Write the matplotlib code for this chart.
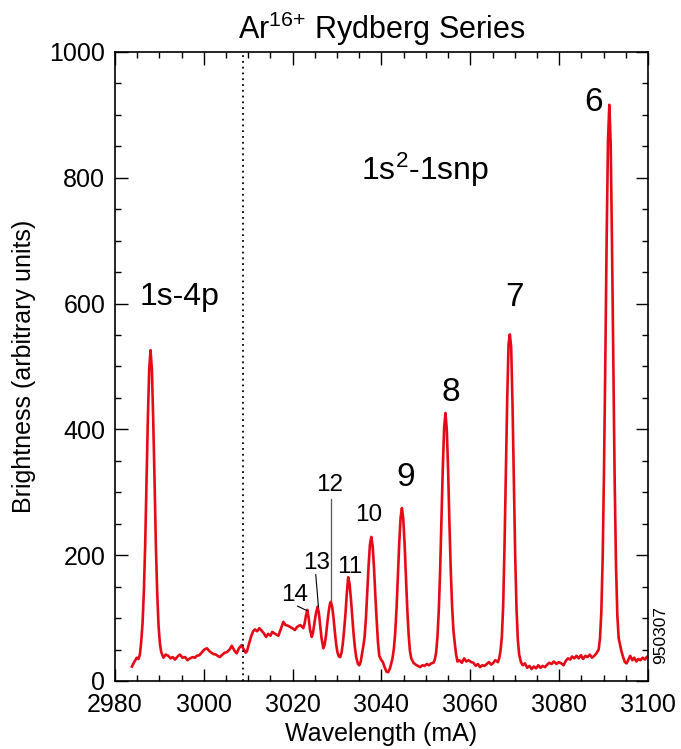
import numpy as np
import matplotlib
matplotlib.use('Agg')
import matplotlib.pyplot as plt
from matplotlib.ticker import MultipleLocator

plt.rcParams['font.family'] = ['Liberation Sans', 'DejaVu Sans']
plt.rcParams['mathtext.fontset'] = 'custom'
plt.rcParams['mathtext.rm'] = 'Liberation Sans'
plt.rcParams['mathtext.it'] = 'Liberation Sans:italic'

# spectrum, read point by point (wavelength in mA, brightness)
wavelength = [
    2983.8, 2984.3, 2984.9, 2985.3, 2985.6,
    # 1s-4p
    2985.9, 2986.2, 2986.5, 2986.8, 2987.1, 2987.4, 2987.7, 2988.0, 2988.3, 2988.6,
    2988.9, 2989.2, 2989.5, 2989.8, 2990.1, 2990.4,
    2990.9, 2991.4, 2992.0, 2992.5, 2993.0, 2993.5, 2994.1, 2994.6, 2995.2, 2995.8,
    2996.3, 2996.9, 2997.5, 2998.0, 2998.4, 2999.0, 2999.6, 3000.1, 3000.7, 3001.3,
    3002.1, 3002.7, 3003.1, 3003.6, 3004.2, 3004.7, 3005.2, 3005.8, 3006.3, 3006.9,
    3007.4, 3007.9, 3008.5, 3009.0, 3009.4, 3009.7, 3010.2, 3010.7, 3011.1, 3011.5,
    3012.0, 3012.5, 3013.0, 3013.5, 3014.0, 3014.5, 3015.0, 3015.4, 3015.8, 3016.3,
    3016.8, 3017.3, 3017.9, 3018.4, 3018.9, 3019.4, 3019.9, 3020.5, 3021.0, 3021.7,
    3022.1, 3022.4,
    # n = 14, 13, 12
    3022.7, 3023.0, 3023.3, 3023.6, 3023.9, 3024.3,
    3024.6, 3024.9, 3025.2, 3025.6, 3025.9, 3026.2, 3026.5, 3026.9,
    3027.2, 3027.5, 3027.8, 3028.1, 3028.4, 3028.6, 3028.9, 3029.2, 3029.5, 3029.8,
    3030.1, 3030.4, 3030.7,
    # n = 11
    3031.0, 3031.3, 3031.6, 3031.9, 3032.2, 3032.5, 3032.8, 3033.1, 3033.4, 3033.7,
    3034.0, 3034.3, 3034.7, 3035.0, 3035.3,
    # n = 10
    3035.6, 3035.9, 3036.2, 3036.5, 3036.8, 3037.1, 3037.4, 3037.7, 3038.0, 3038.3,
    3038.6, 3038.9, 3039.2, 3039.5, 3039.9, 3040.3, 3040.7, 3041.1, 3041.5, 3041.9,
    3042.2,
    # n = 9
    3042.5, 3042.8, 3043.1, 3043.4, 3043.7, 3044.0, 3044.3, 3044.6, 3044.9, 3045.2,
    3045.5, 3045.8, 3046.1, 3046.4, 3046.7, 3047.2, 3047.7, 3048.2, 3048.7, 3049.2,
    3049.7, 3050.2, 3050.7, 3051.2, 3051.7, 3052.0,
    # n = 8
    3052.3, 3052.6, 3052.9, 3053.2, 3053.5, 3053.8, 3054.1, 3054.4, 3054.7, 3055.0,
    3055.3, 3055.6, 3055.9, 3056.2, 3056.5, 3056.8, 3057.1, 3057.5, 3058.1, 3058.6,
    3059.1, 3059.6, 3060.2, 3060.7, 3061.2, 3061.7, 3062.2, 3062.7, 3063.2, 3063.7,
    3064.2, 3064.7, 3065.2, 3065.6, 3066.2, 3066.5,
    # n = 7
    3066.8, 3067.1, 3067.4, 3067.7, 3068.0, 3068.3, 3068.6, 3068.9, 3069.2, 3069.5,
    3069.8, 3070.1, 3070.4, 3070.7, 3071.0, 3071.4, 3071.8, 3072.3, 3072.8, 3073.3,
    3073.8, 3074.3, 3074.8, 3075.3, 3075.8, 3076.3, 3076.8, 3077.3, 3077.8, 3078.3,
    3078.8, 3079.4, 3079.9, 3080.5, 3081.0, 3081.5, 3082.0, 3082.5, 3082.9, 3083.4,
    3083.9, 3084.4, 3084.9, 3085.4, 3085.9, 3086.4, 3086.9, 3087.4, 3087.9, 3088.4,
    3088.9,
    # n = 6
    3089.2, 3089.5, 3089.8, 3090.1, 3090.4, 3090.7, 3091.0, 3091.3, 3091.6, 3091.9,
    3092.2, 3092.5, 3092.8, 3093.1, 3093.4, 3093.7, 3094.0, 3094.4, 3094.8, 3095.2,
    3095.6, 3096.0, 3096.5, 3096.9, 3097.4, 3097.8, 3098.3, 3098.8, 3099.3, 3099.7,
]
brightness = [
    23, 30, 37, 35, 42,
    63, 92, 143, 219, 317, 419, 497, 526, 495, 415,
    320, 215, 140, 88, 60, 46,
    37, 42, 40, 36, 38, 34, 39, 42, 37, 38,
    33, 36, 38, 37, 40, 41, 46, 50, 52, 47,
    43, 42, 40, 38, 42, 45, 46, 50, 56, 48,
    44, 52, 57, 50, 45, 47, 60, 72, 79, 82,
    79, 84, 80, 76, 70, 75, 72, 78, 76, 74,
    72, 82, 94, 89, 88, 86, 84, 81, 86, 89,
    86, 84,
    92, 104, 113, 100, 82, 70,
    78, 92, 106, 118, 108, 88, 68, 52,
    58, 72, 92, 110, 123, 126, 118, 100, 78, 58,
    45, 39, 38,
    45, 60, 82, 108, 140, 165, 155, 132, 104, 76,
    54, 38, 27, 25, 30,
    42, 55, 70, 100, 141, 184, 217, 229, 215, 182,
    138, 98, 62, 40, 34, 30, 22, 15, 14, 20,
    28,
    37, 52, 78, 117, 168, 220, 260, 275, 258, 218,
    165, 115, 75, 48, 36, 29, 26, 24, 22, 25,
    24, 27, 25, 28, 29, 34,
    45, 70, 112, 175, 255, 338, 402, 426, 400, 335,
    250, 175, 118, 80, 60, 42, 31, 33, 29, 36,
    31, 33, 30, 29, 24, 27, 22, 25, 24, 27,
    30, 26, 29, 33, 30, 36,
    48, 70, 120, 215, 330, 445, 535, 551, 530, 440,
    320, 200, 115, 65, 42, 30, 25, 28, 21, 24,
    19, 23, 20, 25, 21, 24, 22, 26, 29, 27,
    31, 27, 30, 28, 25, 32, 36, 34, 39, 36,
    40, 36, 41, 35, 40, 38, 42, 37, 40, 44,
    50,
    68, 110, 195, 335, 510, 705, 860, 916, 855, 695,
    500, 320, 185, 105, 68, 58, 48, 38, 30, 28,
    34, 40, 33, 37, 31, 35, 33, 37, 34, 38,
]

series_edge = 3008.8

# Rydberg members: label, label position, font size
line_labels = ['6', '7', '8', '9', '10', '11', '12', '13', '14']
label_x = [3087.7, 3069.9, 3055.5, 3045.5, 3037.2, 3032.9, 3028.4, 3025.5, 3020.5]
label_y = [920, 609, 458, 323, 264, 181, 312, 188, 137]
label_size = [24, 24, 24, 24, 17.5, 17.5, 17.5, 17.5, 17.5]

fig = plt.figure(figsize=(6.81, 7.49), dpi=100)
ax = fig.add_axes([0.1689, 0.0908, 0.7826, 0.8398])

ax.plot(wavelength, brightness, color='#e60a16', lw=1.9)
ax.axvline(series_edge, color='black', ls=(0, (1, 2.2)), lw=1.3)

for lab, lx, ly, fs in zip(line_labels, label_x, label_y, label_size):
    ax.text(lx, ly, lab, fontsize=fs, ha='center', va='center')

# leader lines for the crowded high-n lines
ax.plot([3028.6, 3028.6], [290, 128], color='#555555', lw=0.9)
ax.plot([3025.2, 3025.8], [169, 118], color='black', lw=0.8)
ax.plot([3021.1, 3023.2], [119, 112], color='black', lw=0.8)

ax.text(2994.6, 610, '1s-4p', fontsize=23, ha='center', va='center')
ax.text(3049.8, 812, '1s$^2$-1snp', fontsize=23, ha='center', va='center')

ax.set_xlim(2980, 3100)
ax.set_ylim(0, 1000)
ax.xaxis.set_major_locator(MultipleLocator(20))
ax.xaxis.set_minor_locator(MultipleLocator(5))
ax.yaxis.set_major_locator(MultipleLocator(200))
ax.yaxis.set_minor_locator(MultipleLocator(50))
ax.tick_params(which='both', direction='in', top=True, right=True, labelsize=18, width=1.0)
ax.tick_params(which='major', length=9)
ax.tick_params(which='minor', length=4.5)
ax.tick_params(axis='x', pad=9)
ax.tick_params(axis='y', pad=7)
for s in ax.spines.values():
    s.set_linewidth(1.2)

ax.set_xlabel('Wavelength (mA)', fontsize=18, labelpad=3)
ax.set_ylabel('Brightness (arbitrary units)', fontsize=18, labelpad=10)
ax.set_title('Ar$^{16{+}}$ Rydberg Series', fontsize=22, pad=9)

fig.text(0.9705, 0.152, '950307', fontsize=12.5, rotation=90, ha='center', va='center')

fig.savefig('out.png', dpi=100)
